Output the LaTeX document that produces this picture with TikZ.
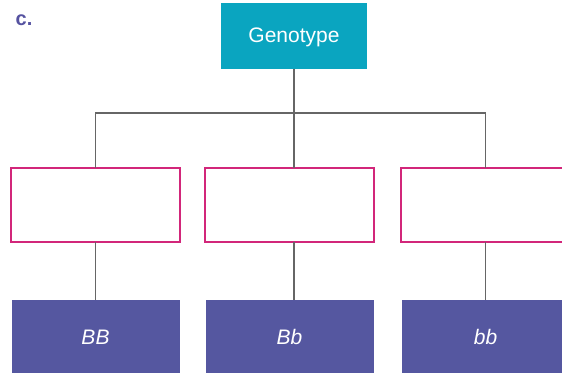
\documentclass[tikz,border=0pt]{standalone}
\usepackage{fontspec}
\setmainfont{Liberation Sans}
\definecolor{GenoTeal}{HTML}{0AA5C0}
\definecolor{AlleleBlue}{HTML}{5557A0}
\definecolor{FramePink}{HTML}{D2267A}
\definecolor{WireGray}{HTML}{666666}
\definecolor{TagBlue}{HTML}{5552A0}
\usetikzlibrary{positioning}

\begin{document}
\begin{tikzpicture}[
  x=1pt, y=-1pt,
  node distance=58pt and 25pt,
  geno/.style={
    rectangle, fill=GenoTeal, text=white,
    font=\fontsize{21}{25}\selectfont,
    minimum width=146pt, minimum height=66pt, text depth=0pt,
    inner sep=0pt, outer sep=0pt,
  },
  frame/.style={
    rectangle, draw=FramePink, line width=2pt, fill=white,
    minimum width=169pt, minimum height=74pt,
    inner sep=0pt, outer sep=0pt,
  },
  allele/.style={
    rectangle, fill=AlleleBlue, text=white,
    font=\fontsize{21}{25}\selectfont\itshape,
    minimum width=168pt, minimum height=74pt,
    inner sep=0pt, outer sep=0pt,
  },
  tag/.style={font=\fontsize{20}{24}\selectfont\bfseries, text=TagBlue},
  wire/.style={line width=1.6pt, color=WireGray},
]
  \useasboundingbox (0,0) rectangle (562,372);

  \node[tag] (lbl) at (24,20) {c.};
  \node[geno] (geno) at (294,35.5) {Genotype};

  \node[frame] (ph2) at (289.5,205) {};
  \node[frame, left=25pt of ph2]  (ph1) {};
  \node[frame, right=27pt of ph2] (ph3) {};

  \node[allele, below=58pt of ph1.south, anchor=north] (gBB) {BB};
  \node[allele, below=58pt of ph2.south, anchor=north] (gBb) {Bb};
  \node[allele, below=58pt of ph3.south, anchor=north] (gbb) {bb};

  \draw[wire] (geno.south) -- (geno.south |- ph2.north);
  \draw[wire] (ph1.north) -- ++(0,-55) -| (ph3.north);
  \draw[wire] (ph1.south) -- (gBB.north);
  \draw[wire] (geno.south |- ph2.south) -- (geno.south |- gBb.north);
  \draw[wire] (ph3.south) -- (gbb.north);
\end{tikzpicture}
\end{document}
